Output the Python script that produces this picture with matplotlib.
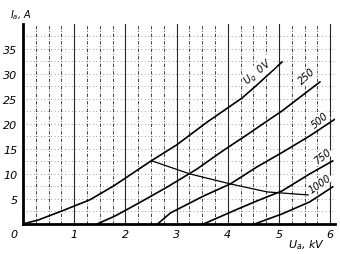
import matplotlib.pyplot as plt
import numpy as np

# anode characteristics, Ia (A) vs Ua (kV), one curve per grid voltage
ug0_x = [0.0, 0.3, 0.76, 1.3, 1.77, 2.5, 3.0, 3.6, 4.28, 4.57, 5.06]
ug0_y = [0.0, 0.8, 2.6, 4.8, 7.6, 12.6, 15.8, 20.4, 25.2, 27.8, 32.4]
ug250_x = [1.45, 1.8, 2.23, 2.82, 3.4, 3.9, 4.4, 4.77, 5.06, 5.8]
ug250_y = [0.0, 1.6, 4.0, 7.4, 11.0, 14.6, 18.0, 20.6, 22.6, 28.4]
ug500_x = [2.63, 2.88, 3.53, 4.05, 4.57, 5.08, 5.6, 6.1]
ug500_y = [0.0, 2.2, 5.6, 8.0, 11.4, 14.4, 17.6, 21.0]
ug750_x = [3.53, 4.2, 4.57, 5.06, 5.6, 6.05]
ug750_y = [0.0, 3.0, 4.6, 6.6, 10.0, 12.6]
ug1000_x = [4.53, 5.06, 5.6, 6.05]
ug1000_y = [0.0, 2.0, 4.4, 7.4]
# anode dissipation limit
pa_x = [2.52, 3.26, 4.05, 4.77, 5.57]
pa_y = [12.6, 10.0, 8.0, 6.4, 5.8]

xticks = [0, 1, 2, 3, 4, 5, 6]
yticks = [5, 10, 15, 20, 25, 30, 35]
labels = ["$U_g$  0V", "250", "500", "750", "1000"]

fig = plt.figure(figsize=(3.4, 2.55), dpi=100)
ax = fig.add_axes([0.068, 0.118, 0.918, 0.784])
ax.set_xlim(0, 6.1)
ax.set_ylim(0, 40)

# scanned-paper style grid
for i, gx in enumerate(np.arange(0.25, 6.1, 0.25)):
    ls = "-" if i % 4 == 3 else (0, (4, 2, 1, 2))
    ax.axvline(gx, color="black", lw=0.8 if i % 4 == 3 else 0.6, ls=ls, alpha=0.85)
for gy in np.arange(2.5, 40, 2.5):
    ax.axhline(gy, color="black", lw=0.5, ls=(0, (1, 4)), alpha=0.7)

for xs, ys in [(ug0_x, ug0_y), (ug250_x, ug250_y), (ug500_x, ug500_y),
               (ug750_x, ug750_y), (ug1000_x, ug1000_y)]:
    ax.plot(xs, ys, color="black", lw=1.2)
ax.plot(pa_x, pa_y, color="black", lw=0.9)

lab_pos = [(4.6, 30.5, 40), (5.55, 29.6, 42), (5.8, 20.8, 40), (5.85, 13.6, 38), (5.8, 8.2, 35)]
for t, (lx, ly, rot) in zip(labels, lab_pos):
    ax.text(lx, ly, t, fontsize=7, style="italic", rotation=rot,
            ha="center", va="center", color="black",
            bbox=dict(facecolor="white", edgecolor="none", pad=0.3))

for s in ["top", "right"]:
    ax.spines[s].set_visible(False)
ax.spines["left"].set_linewidth(2)
ax.spines["bottom"].set_linewidth(2)
ax.set_xticks(xticks)
ax.set_yticks(yticks)
ax.set_xticklabels([str(v) if v else "" for v in xticks], fontsize=8, style="italic")
ax.set_yticklabels([str(v) for v in yticks], fontsize=8, style="italic")
ax.tick_params(length=0, pad=4)
fig.text(0.03, 0.08, "0", fontsize=8, style="italic", va="center")
fig.text(0.9, 0.04, "$U_a$, kV", fontsize=8, style="italic", ha="center", va="center")
fig.text(0.03, 0.94, "$I_a$, A", fontsize=7, style="italic", va="center")

fig.savefig("out.png", dpi=100)
